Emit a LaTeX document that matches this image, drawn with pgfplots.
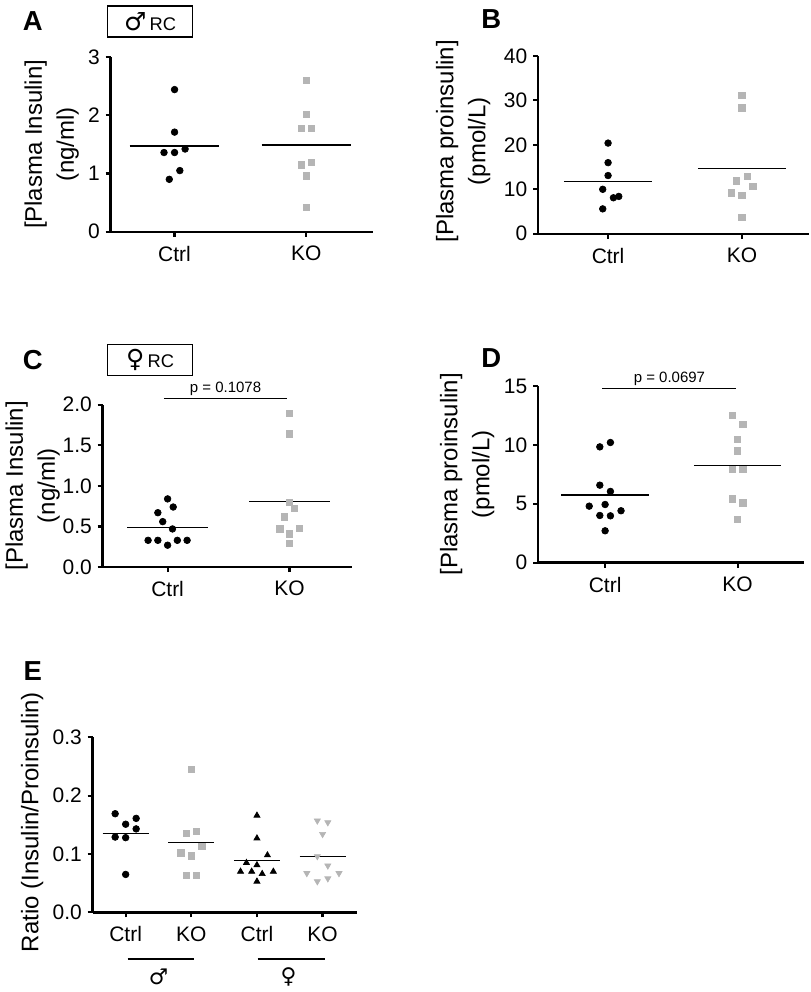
\documentclass[border=0pt]{standalone}
\usepackage{pgfplots}
\pgfplotsset{compat=1.18}
\usepackage{fontspec}
\setmainfont{Liberation Sans}
\newfontfamily\symfont{DejaVu Sans}
\definecolor{gr}{RGB}{181,181,181}
\newcommand\tickfont{\fontsize{12.6}{14}\selectfont}
\newcommand\labfont{\fontsize{14.4}{19.2}\selectfont}
\newcommand\pfont{\fontsize{9}{10}\selectfont}
\newcommand\boxfont{\fontsize{11}{12}\selectfont}
\newcommand\letfont{\fontsize{16.5}{17}\selectfont\bfseries}
\pgfplotsset{
 panel/.style={
  scale only axis, axis lines=left, axis line style={-, line width=1.5pt},
  tick align=outside, major tick length=3pt,
  tick style={black, line width=1.3pt},
  enlargelimits=false, clip=false, anchor=south west,
  xtick={0,1}, xticklabels={Ctrl,KO},
  tick label style={font=\tickfont},
  xticklabel style={yshift=-2pt},
  /pgf/number format/assume math mode=true,
  scaled y ticks=false,
  ylabel style={font=\labfont, align=center, anchor=center},
 },
 ctrl/.style={only marks, mark=*, mark size=2pt, black},
 ko/.style={only marks, mark=square*, mark size=1.9pt, gr, mark options={draw=gr, fill=gr}},
 mean/.style={black, line width=0.8pt, mark=none},
}
\begin{document}
\begin{tikzpicture}
\begin{scope}[x=0.6pt,y=-0.6pt]
\path[use as bounding box] (0,0) rectangle (800,992);
\coordinate (oA) at (100,232);
\coordinate (oB) at (528,234);
\coordinate (oC) at (92,567.7);
\coordinate (oD) at (528,563.3);
\coordinate (oE) at (82,913.3);
\node[font=\letfont] at (22,21) {A};
\node[font=\letfont] at (481,19) {B};
\node[font=\letfont] at (22,360) {C};
\node[font=\letfont] at (481,358) {D};
\node[font=\letfont] at (22,672) {E};
\node[draw, line width=0.8pt, minimum width=51pt, minimum height=18.6pt, inner sep=0pt, font=\boxfont] at (139.5,21.5) {{\symfont\fontsize{15}{15}\selectfont ♂}\,RC};
\node[draw, line width=0.8pt, minimum width=51pt, minimum height=18.6pt, inner sep=0pt, font=\boxfont] at (139.5,360.5) {{\symfont\fontsize{15}{15}\selectfont ♀}\,RC};
\end{scope}

% Panel A
\begin{axis}[panel, at={(oA)}, width=157.8pt, height=105pt,
  xmin=-0.485, xmax=1.508, ymin=0, ymax=3, ytick={0,1,2,3},
  ylabel={[Plasma Insulin]\\(ng/ml)},
  ylabel style={at={(axis description cs:-0.224,0.5)}}]
\addplot[ctrl] coordinates {(0,2.44)(0,1.71)(0.08,1.42)(-0.08,1.36)(0,1.36)(0.04,1.05)(-0.04,0.90)};
\addplot[ko] coordinates {(1,2.60)(1,2.02)(0.96,1.78)(1.04,1.78)(1.04,1.19)(0.96,1.15)(1,0.96)(1,0.42)};
\addplot[mean] coordinates {(-0.34,1.47)(0.34,1.47)};
\addplot[mean] coordinates {(0.66,1.49)(1.34,1.49)};
\end{axis}

% Panel B
\begin{axis}[panel, at={(oB)}, width=162.6pt, height=106.8pt,
  xmin=-0.522, xmax=1.5, ymin=0, ymax=40, ytick={0,10,20,30,40},
  ylabel={[Plasma proinsulin]\\(pmol/L)},
  ylabel style={at={(axis description cs:-0.277,0.52)}}]
\addplot[ctrl] coordinates {(0,20.4)(0,16.0)(0,13.1)(-0.04,10.0)(0.04,8.1)(0.08,8.4)(-0.04,5.6)};
\addplot[ko] coordinates {(1,31.1)(1,28.3)(1.04,12.9)(0.96,11.9)(1.08,10.6)(0.92,9.2)(1,8.7)(1,3.7)};
\addplot[mean] coordinates {(-0.33,11.7)(0.33,11.7)};
\addplot[mean] coordinates {(0.67,14.7)(1.33,14.7)};
\end{axis}

% Panel C
\begin{axis}[panel, at={(oC)}, width=150pt, height=97.6pt,
  xmin=-0.533, xmax=1.516, ymin=0, ymax=2, ytick={0,0.5,1,1.5,2},
  yticklabel style={/pgf/number format/.cd, fixed, fixed zerofill, precision=1},
  ylabel={[Plasma Insulin]\\(ng/ml)},
  ylabel style={at={(axis description cs:-0.28,0.5)}}]
\addplot[ctrl] coordinates {(0,0.84)(0.046,0.74)(-0.08,0.67)(-0.04,0.56)(0.04,0.47)(-0.16,0.33)(-0.08,0.33)(0.08,0.33)(0.16,0.33)(0,0.27)};
\addplot[ko] coordinates {(1,1.89)(1,1.64)(1,0.80)(1.04,0.72)(0.96,0.62)(1.08,0.48)(0.92,0.47)(1,0.41)(1,0.29)};
\addplot[mean] coordinates {(-0.33,0.49)(0.33,0.49)};
\addplot[mean] coordinates {(0.67,0.81)(1.33,0.81)};
\draw[line width=0.6pt] (axis cs:-0.03,2.074) -- (axis cs:0.98,2.074) node[midway, above, font=\pfont, inner sep=1.5pt] {p = 0.1078};
\end{axis}

% Panel D
\begin{axis}[panel, at={(oD)}, width=159.6pt, height=106.2pt,
  xmin=-0.505, xmax=1.5, ymin=0, ymax=15, ytick={0,5,10,15},
  ylabel={[Plasma proinsulin]\\(pmol/L)},
  ylabel style={at={(axis description cs:-0.267,0.5)}}]
\addplot[ctrl] coordinates {(0.04,10.2)(-0.04,9.83)(-0.04,6.58)(0.04,6.05)(0,4.94)(-0.12,4.80)(0.12,4.41)(-0.04,4.01)(0.04,3.98)(0,2.71)};
\addplot[ko] coordinates {(0.96,12.49)(1.04,11.75)(1,10.48)(1,9.49)(0.96,7.91)(1.04,7.91)(0.96,5.42)(1.04,5.08)(1,3.67)};
\addplot[mean] coordinates {(-0.33,5.75)(0.33,5.75)};
\addplot[mean] coordinates {(0.67,8.25)(1.33,8.25)};
\draw[line width=0.6pt] (axis cs:-0.02,14.77) -- (axis cs:0.99,14.77) node[midway, above, font=\pfont, inner sep=1.5pt] {p = 0.0697};
\end{axis}

% Panel E
\begin{axis}[panel, at={(oE)}, width=159pt, height=105.2pt,
  xmin=-0.503, xmax=3.53, ymin=0, ymax=0.3, ytick={0,0.1,0.2,0.3},
  xtick={0,1,2,3}, xticklabels={Ctrl,KO,Ctrl,KO},
  yticklabel style={/pgf/number format/.cd, fixed, fixed zerofill, precision=1},
  ylabel={Ratio (Insulin/Proinsulin)},
  ylabel style={at={(axis description cs:-0.228,0.515)}}]
\addplot[ctrl] coordinates {(-0.16,0.169)(0.16,0.161)(0,0.151)(0.16,0.143)(-0.16,0.129)(0,0.128)(0,0.065)};
\addplot[ko] coordinates {(1,0.245)(1.08,0.139)(0.92,0.135)(1.16,0.113)(0.84,0.102)(1,0.097)(0.92,0.063)(1.08,0.064)};
\addplot[only marks, mark=triangle*, mark size=2.1pt, black] coordinates {(2,0.166)(2,0.127)(2.16,0.098)(1.84,0.085)(2,0.081)(1.75,0.070)(1.92,0.070)(2.25,0.070)(2.08,0.066)(2,0.053)};
\addplot[only marks, mark=triangle*, mark size=2.1pt, gr, mark options={rotate=180, draw=gr, fill=gr}] coordinates {(2.92,0.157)(3.08,0.154)(3,0.134)(2.92,0.096)(3.08,0.080)(2.76,0.067)(3.25,0.067)(3.08,0.058)(2.92,0.053)};
\addplot[mean] coordinates {(-0.35,0.135)(0.35,0.135)};
\addplot[mean] coordinates {(0.65,0.120)(1.35,0.120)};
\addplot[mean] coordinates {(1.65,0.089)(2.35,0.089)};
\addplot[mean] coordinates {(2.65,0.096)(3.35,0.096)};
\draw[line width=0.8pt] (axis cs:0.03,-0.080) -- (axis cs:1.035,-0.080);
\draw[line width=0.8pt] (axis cs:2.01,-0.080) -- (axis cs:3.03,-0.080);
\node[font=\symfont\fontsize{13}{13}\selectfont] at (axis cs:0.5,-0.111) {♂};
\node[font=\symfont\fontsize{13}{13}\selectfont] at (axis cs:2.48,-0.111) {♀};
\end{axis}
\end{tikzpicture}
\end{document}
